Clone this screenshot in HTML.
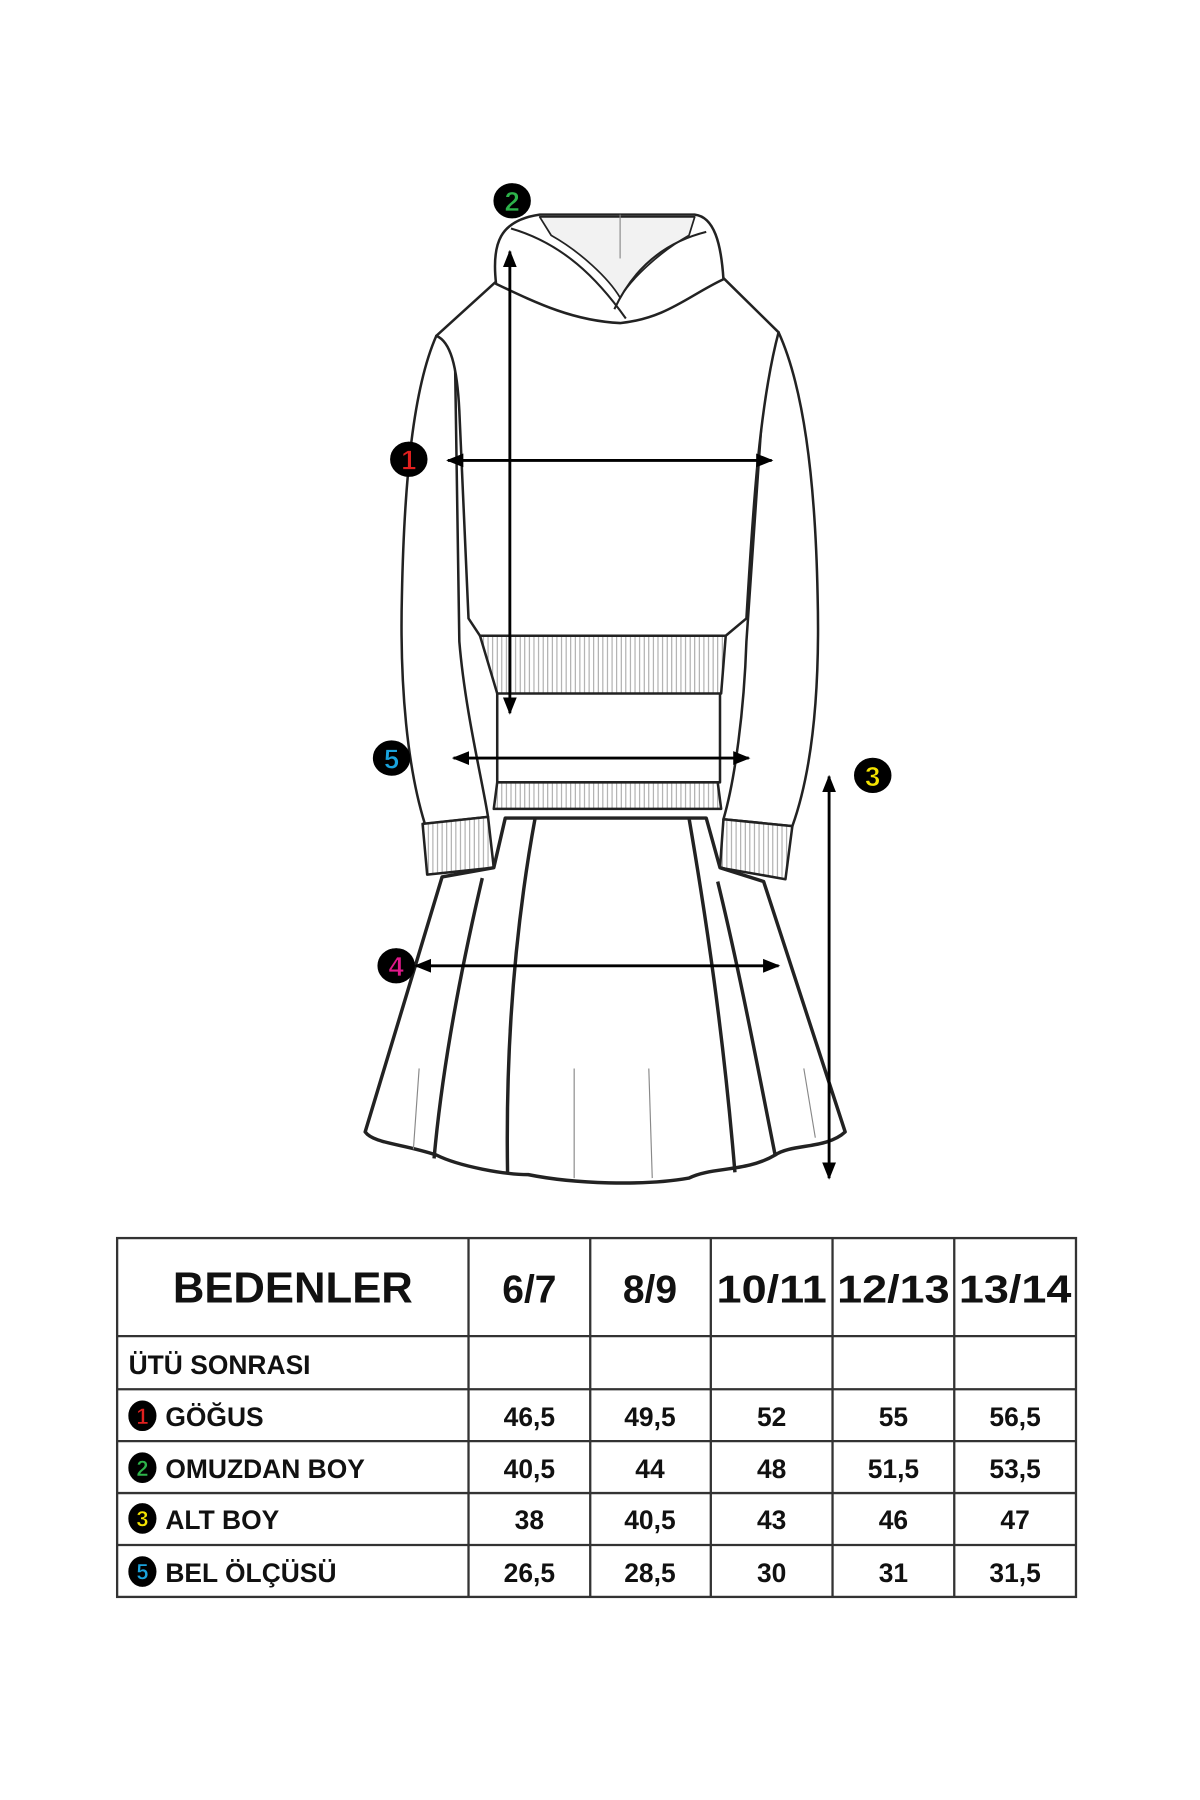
<!DOCTYPE html>
<html><head><meta charset="utf-8"><style>html,body{margin:0;padding:0;background:#fff}svg{display:block}</style></head><body>
<svg width="1200" height="1800" viewBox="0 0 1045 1560" preserveAspectRatio="none" xmlns="http://www.w3.org/2000/svg" font-family="'Liberation Sans', sans-serif" font-weight="bold">
<defs>
<pattern id="rib" width="4" height="10" patternUnits="userSpaceOnUse"><rect width="4" height="10" fill="#fff"/><line x1="1" y1="0" x2="1" y2="10" stroke="#999" stroke-width="0.8"/></pattern>
<marker id="ah" viewBox="0 0 10 10" refX="9" refY="5" markerWidth="6" markerHeight="6" orient="auto-start-reverse"><path d="M0,1 L10,5 L0,9 z" fill="#000"/></marker>
</defs>
<g transform="translate(0,-4)">
<g fill="#fff" stroke="#222" stroke-width="2.2" stroke-linejoin="round">
<path d="M380,295 C360,340 352,420 350,520 C348,600 355,670 370,718 L425,712 C420,680 405,620 400,560 L396,300 Z"/>
<path d="M678,292 C700,340 710,420 712,520 C714,600 708,670 690,720 L630,714 C640,680 648,620 650,560 L668,300 Z"/>
<path d="M368,718 L425,712 L430,756 L372,762 Z" fill="url(#rib)"/>
<path d="M630,714 L690,720 L684,766 L627,756 Z" fill="url(#rib)"/>
<path d="M433,600 L433,682 L627,682 L627,600 Z"/>
<path d="M385,764 L430,756 L440,713 L615,713 L627,756 L665,768 L736,985 C720,1000 690,995 675,1005 C650,1020 620,1015 600,1025 C560,1032 500,1030 460,1022 C440,1022 400,1015 380,1005 C350,995 325,995 318,985 Z" stroke-width="3"/>
<path d="M420,765 C400,850 385,930 378,1008" fill="none" stroke-width="3"/>
<path d="M466,713 C450,800 440,900 442,1020" fill="none" stroke-width="3"/>
<path d="M600,713 C615,800 630,900 640,1020" fill="none" stroke-width="3"/>
<path d="M625,768 C645,850 660,930 675,1005" fill="none" stroke-width="3"/>
<path d="M365,930 L360,1000 M500,930 L500,1025 M565,930 L568,1025 M700,930 L710,990" fill="none" stroke-width="1" stroke="#888"/>
<path d="M433,682 L625,682 L628,705 L430,705 Z" fill="url(#rib)"/>
<path d="M432,248 L380,295 C392,300 398,320 400,360 L408,540 L418,555 L632,555 L650,540 C655,460 660,360 678,292 L630,245 Z"/>
<path d="M418,555 L632,555 L628,605 L433,605 Z" fill="url(#rib)"/>
<path d="M432,250 C428,215 435,195 470,190 L605,190 C622,192 628,215 630,246 C600,260 580,280 540,284 C500,282 470,268 432,250 Z"/>
<path d="M470,192 L605,192 L600,208 C575,222 550,245 540,262 C530,245 505,222 480,208 Z" fill="#f2f2f2" stroke-width="1.5"/>
<path d="M445,202 C490,215 520,245 545,280 M615,205 C575,215 550,240 535,272" fill="none" stroke-width="1.8"/>
<path d="M540,190 L540,228" fill="none" stroke-width="1" stroke="#888"/>
</g>
<g stroke="#000" stroke-width="2.5" fill="none">
<line x1="444" y1="222" x2="444" y2="622" marker-start="url(#ah)" marker-end="url(#ah)"/>
<line x1="390" y1="403" x2="672" y2="403" marker-start="url(#ah)" marker-end="url(#ah)"/>
<line x1="395" y1="661" x2="652" y2="661" marker-start="url(#ah)" marker-end="url(#ah)"/>
<line x1="362" y1="841" x2="678" y2="841" marker-start="url(#ah)" marker-end="url(#ah)"/>
<line x1="722" y1="677" x2="722" y2="1025" marker-start="url(#ah)" marker-end="url(#ah)"/>
</g>
<g font-size="24" text-anchor="middle" stroke="#000" stroke-width="0.6">
<ellipse cx="446" cy="178" rx="16" ry="15" fill="#000"/><text x="446" y="187" fill="#2db34a">2</text>
<ellipse cx="356" cy="402" rx="16" ry="15" fill="#000"/><text x="356" y="411" fill="#e0201f">1</text>
<ellipse cx="341" cy="661" rx="16" ry="15" fill="#000"/><text x="341" y="670" fill="#1aa3dd">5</text>
<ellipse cx="345" cy="841" rx="16" ry="15" fill="#000"/><text x="345" y="850" fill="#e0198a">4</text>
<ellipse cx="760" cy="676" rx="16" ry="15" fill="#000"/><text x="760" y="685" fill="#f5e400">3</text>
</g>
<g stroke="#333" stroke-width="2" fill="none">
<rect x="102" y="1077" width="835" height="311"/>
<path d="M102,1162H937M102,1208H937M102,1253H937M102,1298H937M102,1343H937"/>
<path d="M408,1077V1388M514,1077V1388M619,1077V1388M725,1077V1388M831,1077V1388"/>
</g>
<g fill="#111" text-anchor="middle">
<text x="255" y="1133" font-size="38">BEDENLER</text>
<g font-size="34"><text x="461" y="1133">6/7</text><text x="566" y="1133">8/9</text><text x="672" y="1133" textLength="96" lengthAdjust="spacingAndGlyphs">10/11</text><text x="778" y="1133" textLength="98" lengthAdjust="spacingAndGlyphs">12/13</text><text x="884" y="1133" textLength="98" lengthAdjust="spacingAndGlyphs">13/14</text></g>
<g font-size="23">
<text x="461" y="1240">46,5</text><text x="566" y="1240">49,5</text><text x="672" y="1240">52</text><text x="778" y="1240">55</text><text x="884" y="1240">56,5</text>
<text x="461" y="1285">40,5</text><text x="566" y="1285">44</text><text x="672" y="1285">48</text><text x="778" y="1285">51,5</text><text x="884" y="1285">53,5</text>
<text x="461" y="1329">38</text><text x="566" y="1329">40,5</text><text x="672" y="1329">43</text><text x="778" y="1329">46</text><text x="884" y="1329">47</text>
<text x="461" y="1375">26,5</text><text x="566" y="1375">28,5</text><text x="672" y="1375">30</text><text x="778" y="1375">31</text><text x="884" y="1375">31,5</text>
</g>
</g>
<g fill="#111" font-size="23">
<text x="112" y="1195">ÜTÜ SONRASI</text>
<text x="144" y="1240">GÖĞUS</text>
<text x="144" y="1285">OMUZDAN BOY</text>
<text x="144" y="1329">ALT BOY</text>
<text x="144" y="1375">BEL ÖLÇÜSÜ</text>
</g>
<g font-size="19" text-anchor="middle" stroke="#000" stroke-width="0.5">
<ellipse cx="124" cy="1231" rx="12" ry="13" fill="#000"/><text x="124" y="1238" fill="#e0201f">1</text>
<ellipse cx="124" cy="1276" rx="12" ry="13" fill="#000"/><text x="124" y="1283" fill="#2db34a">2</text>
<ellipse cx="124" cy="1320" rx="12" ry="13" fill="#000"/><text x="124" y="1327" fill="#f5e400">3</text>
<ellipse cx="124" cy="1366" rx="12" ry="13" fill="#000"/><text x="124" y="1373" fill="#1aa3dd">5</text>
</g>
</g>
</svg>
</body></html>
